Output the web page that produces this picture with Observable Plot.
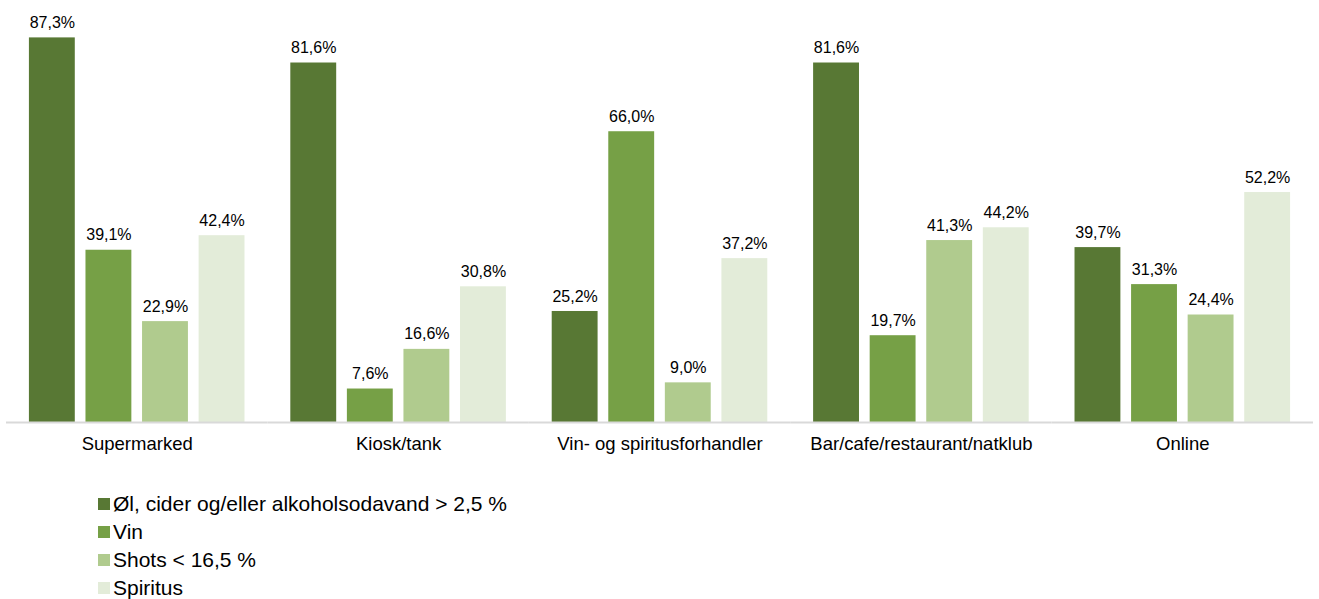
<!DOCTYPE html>
<html>
<head>
<meta charset="utf-8">
<script src="https://cdn.jsdelivr.net/npm/d3@7"></script>
<script src="https://cdn.jsdelivr.net/npm/@observablehq/plot@0.6"></script>
<style>
  body { margin: 0; background: #fff; font-family: "Liberation Sans", Arial, sans-serif; }
  #legend { margin-top: 20px; padding-left: 98px; font-size: 21px; color: #000; }
  .row { height: 28px; line-height: 28px; display: flex; align-items: center; }
  .sw { width: 12px; height: 12px; margin-right: 3px; flex: none; }
</style>
</head>
<body>
<div id="chart"></div>
<div id="legend"></div>
<script>
const categories = ["Supermarked", "Kiosk/tank", "Vin- og spiritusforhandler", "Bar/cafe/restaurant/natklub", "Online"];
const series = ["Øl, cider og/eller alkoholsodavand > 2,5 %", "Vin", "Shots < 16,5 %", "Spiritus"];
const colors = ["#587834", "#76a046", "#b0cb8e", "#e3ecd9"];
const olValues = [87.3, 81.6, 25.2, 81.6, 39.7];
const vinValues = [39.1, 7.6, 66.0, 19.7, 31.3];
const shotsValues = [22.9, 16.6, 9.0, 41.3, 24.4];
const spiritusValues = [42.4, 30.8, 37.2, 44.2, 52.2];

const allSeries = [olValues, vinValues, shotsValues, spiritusValues];
const data = [];
categories.forEach((c, i) => {
  series.forEach((s, j) => data.push({category: c, series: s, value: allSeries[j][i]}));
});
const fmt = v => v.toFixed(1).replace(".", ",") + "%";

const chart = Plot.plot({
  width: 1319,
  height: 470,
  marginTop: 25.5,
  marginBottom: 48,
  marginLeft: 6,
  marginRight: 6,
  style: {fontFamily: "'Liberation Sans', Arial, sans-serif", color: "#000", background: "#fff"},
  fx: {domain: categories, padding: 0, round: false},
  x: {domain: series, paddingInner: 0.189, paddingOuter: 0.405, round: false, axis: null},
  y: {domain: [0, 90], axis: null},
  color: {domain: series, range: colors},
  marks: [
    Plot.barY(data, {fx: "category", x: "series", y: "value", fill: "series"}),
    Plot.ruleY([0], {stroke: "#d9d9d9", strokeWidth: 2}),
    Plot.text(data, {fx: "category", x: "series", y: "value", text: d => fmt(d.value), dy: -15, fontSize: 16, fill: "#000"}),
    Plot.axisFx({anchor: "bottom", tickSize: 0, tickPadding: 14, fontSize: 18.5, label: null, fill: "#000"})
  ]
});
document.getElementById("chart").appendChild(chart);

const legend = document.getElementById("legend");
series.forEach((s, j) => {
  const row = document.createElement("div");
  row.className = "row";
  const sw = document.createElement("span");
  sw.className = "sw";
  sw.style.background = colors[j];
  const t = document.createElement("span");
  t.textContent = s;
  row.appendChild(sw);
  row.appendChild(t);
  legend.appendChild(row);
});
</script>
</body>
</html>
